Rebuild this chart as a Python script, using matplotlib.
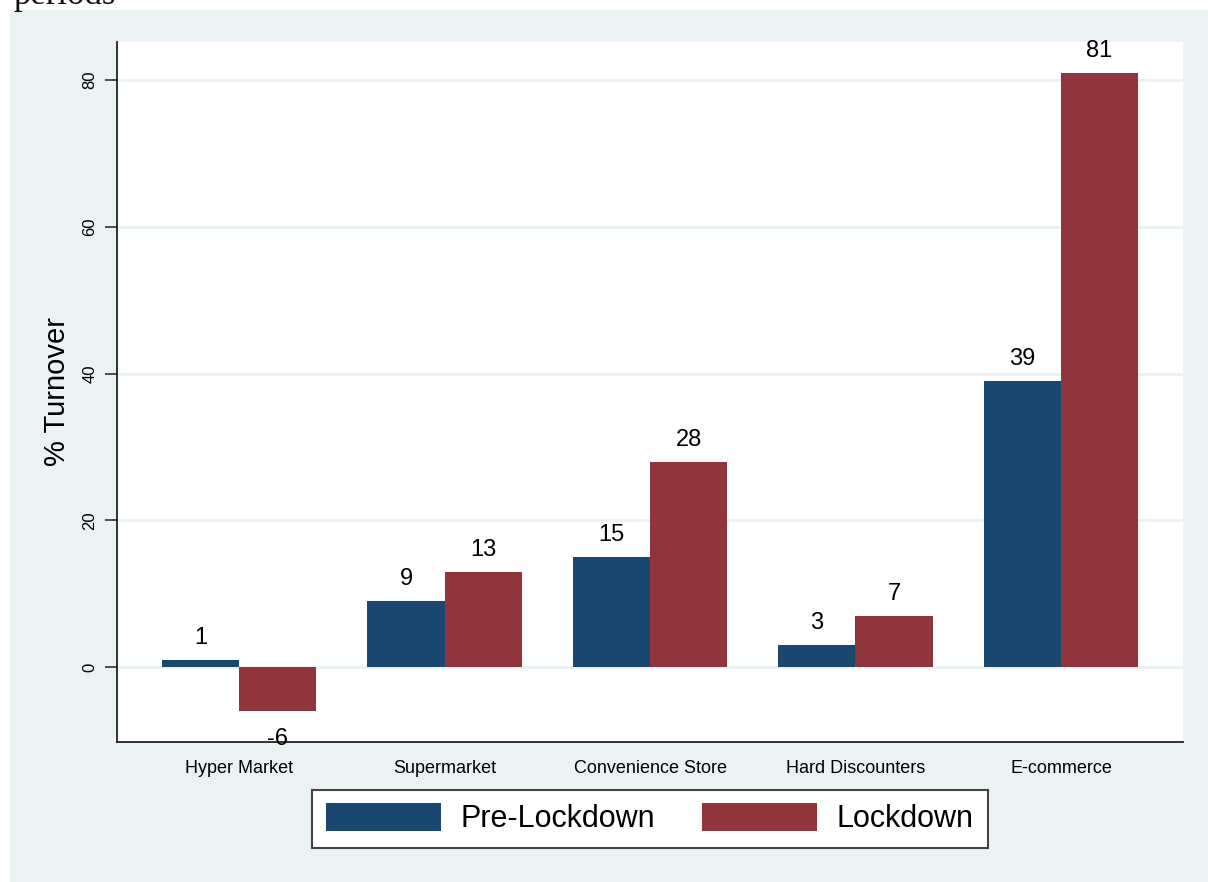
import numpy as np
import matplotlib
matplotlib.use('Agg')
import matplotlib.pyplot as plt
from matplotlib.patches import Rectangle

plt.rcParams['font.family'] = ['Liberation Sans', 'DejaVu Sans']

categories = ['Hyper Market', 'Supermarket', 'Convenience Store', 'Hard Discounters', 'E-commerce']
pre_lockdown = [1, 9, 15, 3, 39]
lockdown = [-6, 13, 28, 7, 81]
series_names = ['Pre-Lockdown', 'Lockdown']
yticks = [0, 20, 40, 60, 80]

navy = '#1A476F'
maroon = '#90353B'
bg = '#EAF2F3'

W, H = 1208, 882
fig = plt.figure(figsize=(W / 100, H / 100), dpi=100, facecolor='white')

# stata graph region (light bluish gray) below the cut-off caption
fig.patches.append(Rectangle((10 / W, 0), 1, 1 - 10 / H, transform=fig.transFigure,
                             facecolor=bg, edgecolor='none', zorder=-10))
fig.text(13 / W, 1 - 4 / H, 'periods', family='Liberation Serif', fontsize=25,
         va='baseline', ha='left', color='#111111')

ax = fig.add_axes([117 / W, (H - 742) / H, (1183 - 117) / W, (742 - 42) / H])
ax.set_facecolor('white')

x = np.arange(len(categories))
w = 0.375
b1 = ax.bar(x - w / 2, pre_lockdown, w, color=navy, label=series_names[0], zorder=3)
b2 = ax.bar(x + w / 2, lockdown, w, color=maroon, label=series_names[1], zorder=3)

for bars in (b1, b2):
    for r in bars:
        v = r.get_height()
        cx = r.get_x() + r.get_width() / 2
        if v >= 0:
            ax.annotate(f'{v:g}', (cx, v), xytext=(0, 8), textcoords='offset points',
                        ha='center', va='bottom', fontsize=17, zorder=5)
        else:
            ax.annotate(f'{v:g}', (cx, v), xytext=(0, -12), textcoords='offset points',
                        ha='center', va='top', fontsize=17, zorder=5)

ax.set_xlim(-0.594, 4.594)
ax.set_ylim(-10.2, 85.2)
ax.set_yticks(yticks)
ax.set_yticklabels([str(t) for t in yticks], rotation=90, va='center', fontsize=12)
ax.tick_params(axis='y', length=9, width=1.2, pad=5, color='#333333')
ax.set_xticks(x)
ax.set_xticklabels(categories, fontsize=13)
ax.tick_params(axis='x', length=0, pad=13)
ax.grid(axis='y', color=bg, linewidth=2, zorder=0)
ax.set_axisbelow(True)

for s in ('top', 'right'):
    ax.spines[s].set_visible(False)
for s in ('left', 'bottom'):
    ax.spines[s].set_linewidth(1.3)
    ax.spines[s].set_color('#222222')

ax.set_ylabel('% Turnover', fontsize=21, labelpad=8)

leg = ax.legend(loc='upper center', bbox_to_anchor=(0.5, -0.068), ncol=2, fontsize=22,
                frameon=True, fancybox=False, framealpha=1, edgecolor='#444444',
                handlelength=3.75, handleheight=1.0, handletextpad=0.65,
                columnspacing=1.55, borderpad=0.45, borderaxespad=0)
leg.get_frame().set_linewidth(1.5)

fig.savefig('out.png', dpi=100, facecolor=fig.get_facecolor())
